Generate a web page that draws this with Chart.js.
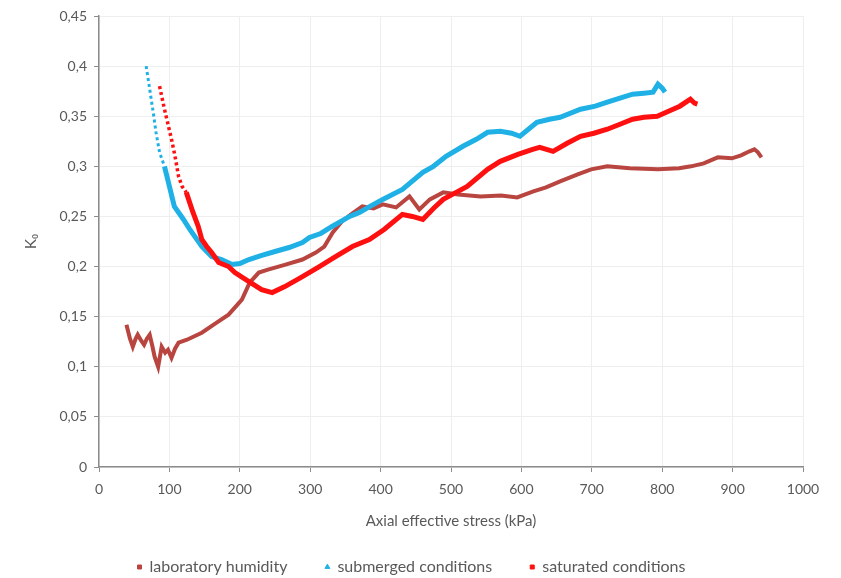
<!DOCTYPE html>
<html>
<head>
<meta charset="utf-8">
<script src="https://cdn.jsdelivr.net/npm/chart.js@4"></script>
<style>
  html, body { margin: 0; padding: 0; background: #fff; }
  canvas { display: block; }
</style>
</head>
<body>
<canvas id="myChart" width="841" height="578"></canvas>
<script>
// laboratory humidity
const labX = [39, 44, 48, 52, 55, 60, 64, 68, 72, 76, 79, 84, 89, 94, 98, 103, 108, 113, 125, 146, 165, 184, 203, 214, 227, 240, 265, 289, 308, 320, 332, 345, 360, 374, 390, 403, 422, 441, 455, 470, 489, 510, 542, 571, 594, 617, 635, 655, 680, 699, 722, 754, 794, 824, 841, 859, 879, 899, 912, 924, 931, 936, 941];
const labK = [0.142, 0.128, 0.12, 0.128, 0.132, 0.126, 0.122, 0.128, 0.132, 0.12, 0.11, 0.1, 0.12, 0.114, 0.117, 0.109, 0.118, 0.124, 0.127, 0.134, 0.143, 0.152, 0.167, 0.184, 0.194, 0.197, 0.202, 0.207, 0.214, 0.22, 0.234, 0.245, 0.253, 0.26, 0.258, 0.262, 0.259, 0.27, 0.257, 0.267, 0.274, 0.272, 0.27, 0.271, 0.269, 0.275, 0.279, 0.285, 0.292, 0.297, 0.3, 0.298, 0.297, 0.298, 0.3, 0.303, 0.309, 0.308, 0.311, 0.315, 0.317, 0.314, 0.309];

// submerged conditions
const subX = [67, 72, 77, 81, 86, 93, 100, 107, 120, 129, 146, 160, 174, 189, 200, 213, 230, 250, 270, 289, 299, 315, 331, 356, 370, 385, 403, 431, 460, 475, 493, 517, 536, 552, 570, 586, 598, 622, 640, 655, 684, 705, 722, 740, 758, 774, 787, 794, 800, 804];
const subK = [0.4, 0.377, 0.354, 0.334, 0.314, 0.3, 0.28, 0.26, 0.247, 0.237, 0.22, 0.21, 0.207, 0.202, 0.203, 0.207, 0.211, 0.215, 0.219, 0.224, 0.229, 0.233, 0.24, 0.25, 0.254, 0.26, 0.267, 0.277, 0.294, 0.3, 0.31, 0.32, 0.327, 0.334, 0.335, 0.333, 0.33, 0.344, 0.347, 0.349, 0.357, 0.36, 0.364, 0.368, 0.372, 0.373, 0.374, 0.382, 0.378, 0.374];

// saturated conditions
const satX = [86, 93, 98, 103, 108, 113, 118, 124, 133, 141, 146, 153, 160, 170, 184, 193, 213, 231, 246, 264, 289, 313, 336, 360, 384, 405, 431, 445, 460, 475, 489, 510, 523, 552, 570, 595, 616, 626, 645, 665, 684, 703, 722, 740, 758, 774, 793, 809, 825, 840, 846, 850];
const satK = [0.38, 0.357, 0.342, 0.327, 0.31, 0.29, 0.28, 0.274, 0.255, 0.24, 0.227, 0.22, 0.214, 0.204, 0.2, 0.194, 0.185, 0.177, 0.174, 0.18, 0.19, 0.2, 0.21, 0.22, 0.227, 0.237, 0.252, 0.25, 0.247, 0.258, 0.267, 0.275, 0.28, 0.297, 0.305, 0.312, 0.317, 0.319, 0.315, 0.323, 0.33, 0.333, 0.337, 0.342, 0.347, 0.349, 0.35, 0.355, 0.36, 0.367, 0.363, 0.362];

const xTicks = [0, 100, 200, 300, 400, 500, 600, 700, 800, 900, 1000];

const toPoints = (xs, ys) => xs.map((x, i) => ({ x: x, y: ys[i] }));

const fontFamily = "Lato, 'Open Sans', sans-serif";
const tickFont = { family: fontFamily, size: 14 };
const gridColor = '#eeeeee';
const axisColor = '#8c8c8c';
const textColor = '#595959';

const ctx = document.getElementById('myChart').getContext('2d');
const myChart = new Chart(ctx, {
    type: 'line',
    data: {
        datasets: [{
            label: 'laboratory humidity',
            data: toPoints(labX, labK),
            borderColor: '#b8453f',
            backgroundColor: '#b8453f',
            borderWidth: 4,
            pointRadius: 0,
            pointStyle: 'rect',
            order: 2
        }, {
            label: 'submerged conditions',
            data: toPoints(subX, subK),
            borderColor: '#1fb1e6',
            backgroundColor: '#1fb1e6',
            borderWidth: 5,
            pointRadius: 0,
            pointStyle: 'triangle',
            order: 1,
            segment: {
                borderDash: c => c.p0DataIndex < 5 ? [3, 3] : undefined,
                borderWidth: c => c.p0DataIndex < 5 ? 3 : 5
            }
        }, {
            label: 'saturated conditions',
            data: toPoints(satX, satK),
            borderColor: '#ff1010',
            backgroundColor: '#ff1010',
            borderWidth: 5,
            pointRadius: 0,
            pointStyle: 'rect',
            order: 0,
            segment: {
                borderDash: c => c.p0DataIndex < 7 ? [3, 3] : undefined,
                borderWidth: c => c.p0DataIndex < 7 ? 3.5 : 5
            }
        }]
    },
    options: {
        responsive: false,
        animation: false,
        layout: { padding: { left: 20, right: 38, top: 16, bottom: -7 } },
        plugins: {
            legend: {
                position: 'bottom',
                labels: {
                    usePointStyle: true,
                    boxWidth: 4,
                    boxHeight: 4,
                    padding: 38,
                    color: textColor,
                    font: { family: fontFamily, size: 16 },
                    sort: (a, b) => a.datasetIndex - b.datasetIndex,
                    generateLabels: chart => Chart.defaults.plugins.legend.labels.generateLabels(chart)
                        .map(l => Object.assign(l, { lineWidth: 1 }))
                }
            },
            tooltip: { enabled: false }
        },
        scales: {
            x: {
                type: 'linear',
                min: 0,
                max: 1000,
                afterFit: s => { s.height = 54; },
                afterBuildTicks: s => { s.ticks = xTicks.map(v => ({ value: v })); },
                ticks: { color: textColor, font: tickFont, padding: 9, callback: v => String(v) },
                grid: { color: gridColor, tickColor: axisColor, tickLength: 5 },
                border: { color: axisColor, width: 1.5 },
                title: {
                    display: true,
                    text: 'Axial effective stress (kPa)',
                    color: textColor,
                    font: { family: fontFamily, size: 15 },
                    padding: { top: 0, bottom: -9 }
                }
            },
            y: {
                min: 0,
                max: 0.45,
                afterFit: s => { s.width = 79; },
                ticks: {
                    stepSize: 0.05,
                    color: textColor,
                    font: tickFont,
                    padding: 7,
                    callback: v => String(Number(v.toFixed(2))).replace('.', ',')
                },
                grid: { color: gridColor, tickColor: axisColor, tickLength: 5 },
                border: { color: axisColor, width: 1.5 },
                title: {
                    display: true,
                    text: 'K\u2080',
                    color: textColor,
                    font: { family: fontFamily, size: 15 },
                    padding: 2
                }
            }
        }
    }
});
</script>
</body>
</html>
